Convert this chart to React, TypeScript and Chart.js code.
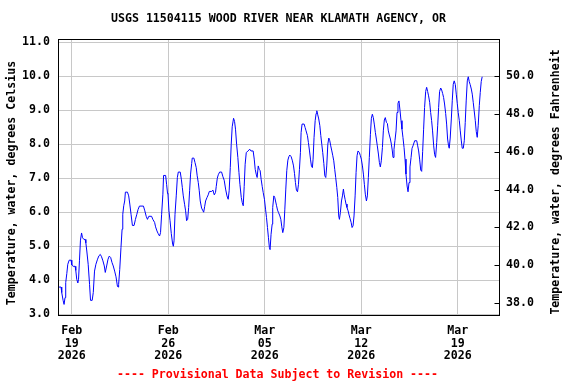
import React, { useEffect, useRef } from "react";
import { Chart, registerables } from "chart.js";

Chart.register(...registerables);

const TITLE = "USGS 11504115 WOOD RIVER NEAR KLAMATH AGENCY, OR";
const FOOTER = "---- Provisional Data Subject to Revision ----";
const Y_LEFT_TITLE = "Temperature, water, degrees Celsius";
const Y_RIGHT_TITLE = "Temperature, water, degrees Fahrenheit";

// time: days since 2026-02-18 00:00
const dayOffsets = [
  0.03, 0.22, 0.27, 0.37, 0.44, 0.51, 0.56, 0.64, 0.71, 0.81, 0.95, 1.0, 1.1, 1.24, 1.29, 1.36, 1.44, 1.49, 1.56, 1.63,
  1.71, 1.78, 1.88, 1.97, 2.02, 2.09, 2.19, 2.29, 2.36, 2.48, 2.56, 2.65, 2.75, 2.87, 2.97, 3.07, 3.16, 3.26, 3.36, 3.43,
  3.53, 3.63, 3.72, 3.82, 3.92, 4.01, 4.11, 4.21, 4.31, 4.36, 4.4, 4.48, 4.57, 4.65, 4.7, 4.77, 4.84, 4.89, 5.04, 5.13,
  5.21, 5.3, 5.4, 5.52, 5.62, 5.72, 5.81, 5.91, 6.2, 6.3, 6.4, 6.49, 6.59, 6.79, 6.88, 7.01, 7.08, 7.18, 7.27, 7.37,
  7.44, 7.52, 7.61, 7.66, 7.81, 7.88, 7.95,
  7.98, 8.05, 8.13, 8.22, 8.32, 8.37, 8.42, 8.49, 8.58, 8.66, 8.73, 8.87, 8.95, 9.02, 9.09, 9.19, 9.26, 9.33, 9.41, 9.48,
  9.55, 9.62, 9.7, 9.74, 9.86, 9.94, 10.03, 10.1, 10.18, 10.25, 10.32, 10.42, 10.52, 10.57, 10.64, 10.71, 10.81, 10.9, 10.98, 11.15,
  11.24, 11.34, 11.43, 11.48, 11.56, 11.63, 11.73, 11.87, 11.97, 12.06, 12.16, 12.26, 12.35, 12.42, 12.5, 12.57, 12.64, 12.74, 12.81, 12.88,
  12.96, 13.05, 13.13, 13.2, 13.3, 13.37, 13.44, 13.51, 13.58, 13.66, 13.78, 13.92, 14.0, 14.16, 14.24, 14.31, 14.38, 14.45, 14.53, 14.6,
  14.67, 14.74, 14.82, 14.89, 14.98, 15.06, 15.13, 15.2, 15.27, 15.34, 15.39, 15.46, 15.54, 15.58, 15.66, 15.73,
  15.86, 15.93, 16.0, 16.1, 16.17, 16.24, 16.31, 16.39, 16.46, 16.53, 16.6, 16.68, 16.75, 16.82, 16.92, 17.01, 17.09, 17.16, 17.23, 17.3,
  17.38, 17.45, 17.52, 17.59, 17.64, 17.71, 17.86, 17.93, 18.0, 18.1, 18.17, 18.25, 18.32, 18.39, 18.46, 18.51, 18.58, 18.66, 18.73, 18.78,
  18.85, 18.92, 19.0, 19.07, 19.14, 19.21, 19.29, 19.36, 19.43, 19.5, 19.58, 19.65, 19.72, 19.79, 19.87, 19.94, 20.01, 20.08, 20.15, 20.23,
  20.3, 20.37, 20.42, 20.49, 20.57, 20.64, 20.71, 20.76, 20.83, 20.9, 20.97, 21.05, 21.12, 21.19, 21.27, 21.34, 21.41, 21.48, 21.56, 21.63,
  21.7, 21.77, 21.87, 21.94, 22.01, 22.09, 22.16, 22.23, 22.3, 22.38, 22.45, 22.52, 22.59, 22.67, 22.74, 22.81, 22.88, 22.95, 23.03, 23.1,
  23.17, 23.25, 23.32, 23.39, 23.46, 23.54, 23.61, 23.68, 23.75,
  23.83, 23.9, 23.97, 24.04, 24.12, 24.19, 24.26, 24.31, 24.38, 24.45, 24.53, 24.6, 24.67, 24.74, 24.82, 24.89, 24.96, 25.03, 25.11, 25.18,
  25.25, 25.33, 25.4, 25.47, 25.54, 25.62, 25.69, 25.76, 25.88, 26.03, 26.1, 26.17, 26.24, 26.32, 26.39, 26.46, 26.53, 26.6, 26.68, 26.75,
  26.82, 26.89, 26.97, 27.04, 27.11, 27.18, 27.26, 27.33, 27.4, 27.48, 27.55, 27.62, 27.69, 27.77, 27.84, 27.91, 27.98, 28.05, 28.13, 28.2,
  28.27, 28.34, 28.39, 28.46, 28.54, 28.61, 28.68, 28.75, 28.83, 28.9, 28.97, 29.04, 29.12, 29.19, 29.26, 29.33, 29.41, 29.48, 29.55, 29.62,
  29.7, 29.77, 29.84, 29.91, 29.99, 30.06, 30.13, 30.2, 30.28, 30.35, 30.42, 30.49, 30.57, 30.64, 30.71, 30.78,
];

const tempC = [
  3.8, 3.8, 3.64, 3.41, 3.29, 3.49, 3.93, 4.2, 4.47, 4.59, 4.59, 4.45, 4.41, 4.41, 4.29, 4.03, 3.92, 4.03, 4.59, 5.18,
  5.39, 5.25, 5.2, 5.2, 5.1, 4.86, 4.47, 3.88, 3.41, 3.41, 3.64, 4.27, 4.47, 4.62, 4.72, 4.76, 4.69, 4.57, 4.42, 4.23,
  4.42, 4.62, 4.71, 4.67, 4.52, 4.42, 4.27, 4.1, 3.83, 3.8, 3.88, 4.32, 4.96, 5.5, 5.94, 6.19, 6.33, 6.59, 6.59, 6.48,
  6.24, 5.94, 5.61, 5.61, 5.79, 5.94, 6.08, 6.18, 6.18, 6.04, 5.88, 5.79, 5.88, 5.88, 5.79, 5.7, 5.57, 5.45, 5.37, 5.3,
  5.4, 5.94, 6.53, 7.08, 7.08, 6.82, 6.55,
  6.53, 6.04, 5.75, 5.37, 5.06, 5.0, 5.16, 5.94, 6.48, 7.02, 7.18, 7.18, 6.97, 6.73, 6.48, 6.22, 6.04, 5.75, 5.79, 6.14,
  6.63, 7.12, 7.43, 7.59, 7.59, 7.46, 7.31, 7.07, 6.87, 6.63, 6.33, 6.12, 6.04, 6.0, 6.16, 6.33, 6.43, 6.51, 6.61, 6.61,
  6.65, 6.51, 6.58, 6.75, 7.0, 7.1, 7.18, 7.18, 7.04, 6.94, 6.68, 6.48, 6.38, 6.63, 7.31, 8.0, 8.51, 8.76, 8.67, 8.44,
  8.0, 7.61, 7.17, 6.82, 6.43, 6.28, 6.19, 6.75, 7.41, 7.75, 7.8, 7.85, 7.8, 7.8, 7.56, 7.26, 7.12, 7.02, 7.36, 7.26,
  7.22, 6.97, 6.75, 6.58, 6.38, 6.09, 5.84, 5.55, 5.25, 4.96, 4.9, 5.35, 5.65, 6.14, 6.48, 6.43,
  6.19, 6.06, 5.99, 5.89, 5.79, 5.57, 5.4, 5.55, 6.09, 6.68, 7.22, 7.53, 7.63, 7.68, 7.63, 7.51, 7.36, 7.14, 6.87, 6.65,
  6.6, 6.82, 7.26, 7.75, 8.34, 8.59, 8.59, 8.49, 8.39, 8.25, 8.05, 7.8, 7.56, 7.36, 7.31, 7.56, 8.2, 8.69, 8.9, 8.98,
  8.86, 8.74, 8.54, 8.25, 8.0, 7.75, 7.43, 7.07, 7.02, 7.36, 8.0, 8.18, 8.1, 7.95, 7.8, 7.66, 7.51, 7.26, 7.02, 6.73,
  6.43, 5.89, 5.79, 5.99, 6.33, 6.48, 6.68, 6.53, 6.38, 6.24, 6.14, 6.04, 5.92, 5.82, 5.7, 5.55, 5.6, 5.89, 6.48, 7.17,
  7.66, 7.8, 7.75, 7.66, 7.56, 7.36, 7.12, 6.82, 6.53, 6.33, 6.48, 7.02, 7.61, 8.29, 8.76, 8.88, 8.78, 8.59, 8.34, 8.15,
  7.95, 7.71, 7.46, 7.33, 7.51, 7.9, 8.41, 8.71, 8.78,
  8.64, 8.61, 8.39, 8.27, 8.15, 8.0, 7.8, 7.61, 7.85, 8.1, 8.39, 8.93, 9.2, 9.27, 8.98, 8.69, 8.44, 8.2, 7.9, 7.56,
  7.12, 6.77, 6.6, 6.87, 7.33, 7.61, 7.88, 7.95, 8.1, 8.1, 7.95, 7.8, 7.56, 7.24, 7.2, 7.78, 8.44, 9.08, 9.55, 9.67,
  9.55, 9.42, 9.23, 8.93, 8.69, 8.39, 7.95, 7.69, 7.61, 8.05, 8.54, 9.08, 9.55, 9.65, 9.59, 9.49, 9.37, 9.18, 8.9, 8.59,
  8.15, 7.95, 7.88, 8.18, 8.74, 9.29, 9.76, 9.86, 9.75, 9.47, 9.2, 8.93, 8.69, 8.39, 8.12, 7.88, 7.88, 8.1, 8.64, 9.27,
  9.86, 9.98, 9.84, 9.75, 9.62, 9.47, 9.23, 8.98, 8.69, 8.37, 8.2, 8.54, 9.13, 9.52, 9.84, 9.98,
];

const xTickDays = [1, 8, 15, 22, 29];
const xTickLabels = [
  ["Feb", "19", "2026"],
  ["Feb", "26", "2026"],
  ["Mar", "05", "2026"],
  ["Mar", "12", "2026"],
  ["Mar", "19", "2026"],
];
const celsiusTicks = [3, 4, 5, 6, 7, 8, 9, 10, 11];
const fahrenheitTicks = [38, 40, 42, 44, 46, 48, 50];

const X_MIN = 0;
const X_MAX = 32;
const C_MIN = 2.95;
const C_MAX = 11.09;

const FONT_FAMILY = "'DejaVu Sans Mono', monospace";
const FONT_SIZE = 11.6;
const GRID_COLOR = "#c8c8c8";

const decorPlugin = {
  id: "decor",
  afterDraw(chart: any) {
    const { ctx, chartArea: a } = chart;
    ctx.save();
    ctx.strokeStyle = "#000";
    ctx.lineWidth = 1;
    const l = Math.round(a.left) + 0.5;
    const t = Math.round(a.top) + 0.5;
    const r = Math.round(a.right) + 0.5;
    const b = Math.round(a.bottom) - 0.5;
    ctx.strokeRect(l, t, r - l, b - t);
    const yF = chart.scales.yF;
    fahrenheitTicks.forEach((v) => {
      const y = Math.round(yF.getPixelForValue(v)) + 0.5;
      ctx.beginPath();
      ctx.moveTo(r - 5, y);
      ctx.lineTo(r, y);
      ctx.stroke();
    });
    ctx.font = `bold ${FONT_SIZE}px ${FONT_FAMILY}`;
    ctx.textAlign = "center";
    ctx.textBaseline = "middle";
    ctx.fillStyle = "#000";
    ctx.fillText(TITLE, (a.left + a.right) / 2, 19);
    ctx.fillStyle = "#ff0000";
    ctx.fillText(FOOTER, 277.5, 375);
    ctx.fillStyle = "#000";
    ctx.save();
    ctx.translate(12, 183);
    ctx.rotate(-Math.PI / 2);
    ctx.fillText(Y_LEFT_TITLE, 0, 0);
    ctx.restore();
    ctx.save();
    ctx.translate(556, 182);
    ctx.rotate(-Math.PI / 2);
    ctx.fillText(Y_RIGHT_TITLE, 0, 0);
    ctx.restore();
    ctx.restore();
  },
};

export default function App() {
  const canvasRef = useRef<HTMLCanvasElement | null>(null);

  useEffect(() => {
    const canvas = canvasRef.current;
    if (!canvas) return;
    const tickFont = { family: FONT_FAMILY, weight: "bold" as const, size: FONT_SIZE, lineHeight: 1.12 };
    const points = dayOffsets.map((d, i) => ({ x: d, y: tempC[i] }));
    const chart = new Chart(canvas, {
      type: "line",
      data: {
        datasets: [
          {
            data: points,
            yAxisID: "y",
            borderColor: "#0000ff",
            borderWidth: 1,
            pointRadius: 0,
            fill: false,
            tension: 0,
          },
        ],
      },
      options: {
        animation: false,
        responsive: false,
        devicePixelRatio: 1,
        layout: { padding: { top: 39, left: 0, right: 0, bottom: 0 } },
        plugins: {
          legend: { display: false },
          title: { display: false },
          tooltip: { enabled: false },
        },
        scales: {
          x: {
            type: "linear",
            min: X_MIN,
            max: X_MAX,
            afterBuildTicks: (s: any) => {
              s.ticks = xTickDays.map((v) => ({ value: v }));
            },
            afterFit: (s: any) => {
              s.height = 68;
            },
            grid: { color: GRID_COLOR, lineWidth: 1, drawTicks: false },
            border: { display: false },
            ticks: {
              autoSkip: false,
              maxRotation: 0,
              padding: 8,
              color: "#000",
              font: tickFont,
              callback: (v: any) => {
                const i = xTickDays.indexOf(Number(v));
                return i >= 0 ? xTickLabels[i] : "";
              },
            },
          },
          y: {
            type: "linear",
            position: "left",
            min: C_MIN,
            max: C_MAX,
            afterBuildTicks: (s: any) => {
              s.ticks = celsiusTicks.map((v) => ({ value: v }));
            },
            afterFit: (s: any) => {
              s.width = 58;
            },
            grid: { color: GRID_COLOR, lineWidth: 1, drawTicks: false },
            border: { display: false },
            ticks: {
              padding: 8,
              color: "#000",
              font: tickFont,
              callback: (v: any) => Number(v).toFixed(1),
            },
          },
          yF: {
            type: "linear",
            position: "right",
            min: C_MIN * 1.8 + 32,
            max: C_MAX * 1.8 + 32,
            afterBuildTicks: (s: any) => {
              s.ticks = fahrenheitTicks.map((v) => ({ value: v }));
            },
            afterFit: (s: any) => {
              s.width = 77;
            },
            grid: { display: false, drawTicks: false },
            border: { display: false },
            ticks: {
              padding: 7,
              color: "#000",
              font: tickFont,
              callback: (v: any) => Number(v).toFixed(1),
            },
          },
        },
      },
      plugins: [decorPlugin],
    });
    return () => chart.destroy();
  }, []);

  return (
    <div style={{ position: "fixed", left: 0, top: 0, width: 576, height: 384, background: "#fff" }}>
      <canvas ref={canvasRef} width={576} height={384} style={{ display: "block" }} />
    </div>
  );
}
